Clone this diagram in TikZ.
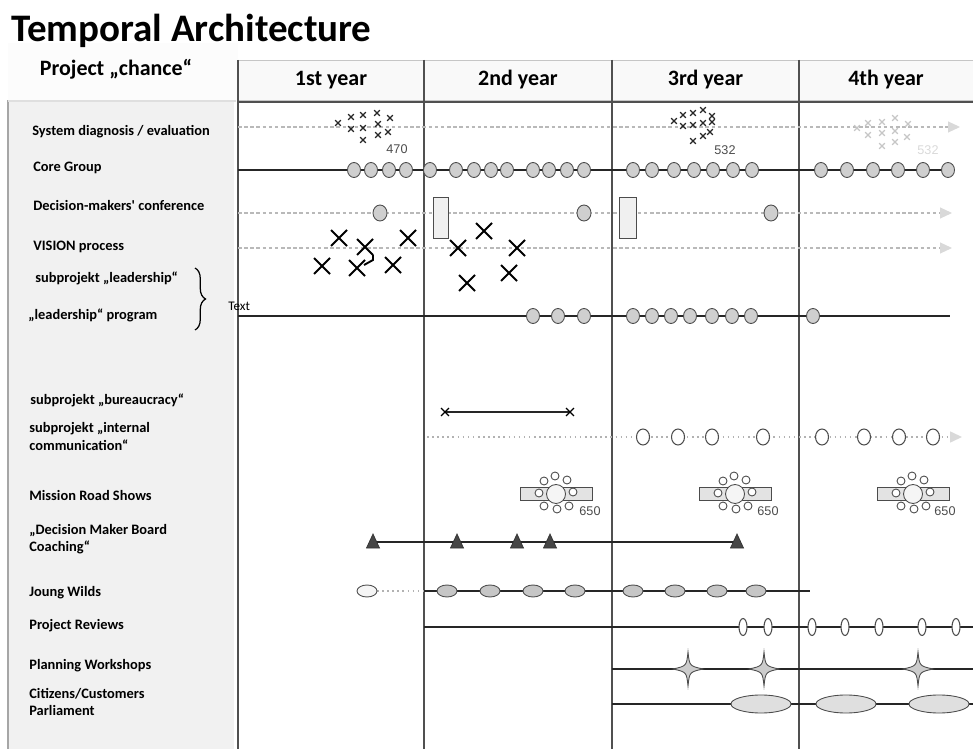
\documentclass[tikz,border=0pt]{standalone}
\usepackage{fontspec}
\setmainfont{Carlito}
\newfontfamily\numfont{Liberation Sans}
\usetikzlibrary{arrows.meta,positioning,calc,decorations.pathreplacing}

\definecolor{gridline}{HTML}{505050}
\definecolor{markfill}{HTML}{CFCFCF}
\definecolor{panelgray}{HTML}{F1F1F1}

\begin{document}
\begin{tikzpicture}[
  x=0.02cm, y=-0.02cm,
  rowlabel/.style={anchor=west, inner sep=0pt, align=left,
    font=\fontsize{8.2}{9.8}\selectfont\bfseries},
  yearhead/.style={rectangle, draw=gray!45, fill=gray!5, minimum height=0.8cm,
    inner sep=0pt, font=\fontsize{12.5}{14}\selectfont\bfseries},
  gridrule/.style={gridline, line width=0.6pt},
  timeline/.style={black!85, line width=0.8pt},
  planned/.style={gray!55, dash pattern=on 2pt off 1.5pt, line width=0.6pt,
    -{Triangle[length=2.4mm, width=2.2mm, color=gray!30]}},
  meeting/.style={draw=black!70, fill=markfill, line width=0.5pt},
  figure/.style={font=\numfont\fontsize{7.2}{8}\selectfont, text=black!70, inner sep=0pt},
  pics/cross/.style={code={\draw[line width=1.1pt] (-8,-8) -- (8,8) (-8,8) -- (8,-8);}},
  pics/tinyx/.style={code={\draw[line width=0.75pt] (-2.8,-2.8) -- (2.8,2.8) (-2.8,2.8) -- (2.8,-2.8);}},
  pics/coachmark/.style={code={\draw[fill=gray!55!black, draw=black!80] (-6.5,6) -- (0,-8) -- (6.5,6) -- cycle;}},
  pics/workshop/.style={code={
    \draw[meeting, fill=gray!40] (0,-17) .. controls (1.5,-3) .. (15,0) .. controls (1.5,3) .. (0,17)
      .. controls (-1.5,3) .. (-15,0) .. controls (-1.5,-3) .. (0,-17) -- cycle;}},
  pics/roundtable/.style={code={
    \draw[meeting, fill=gray!22] (-36,-6.5) rectangle (36,6.5);
    \draw[meeting, fill=gray!8] (0,0) circle [radius=9.5];
    \foreach \dx/\dy in {-12/-13, -1/-18, 11/-14, -17/-1, 17/-2, -12/12, 1/15, 13/12}
      \draw[meeting, fill=white] (\dx,\dy) circle [radius=4];}}
]
\useasboundingbox (0,0) rectangle (973,749);

% ---- Left panel ----
\fill[panelgray] (8,43) rectangle (234,749);
\draw[gray!70, line width=0.8pt] (8,100) -- (8,749);
\fill[gray!2] (8,43) rectangle (238,100);
\draw[gray!25, line width=1.5pt] (8,101) -- (236,101);
\node[inner sep=0pt, font=\fontsize{12.5}{14}\selectfont\bfseries] (proj) at (116,69) {Project „chance“};

% ---- Title ----
\node[anchor=base west, inner sep=0pt, font=\fontsize{22.2}{25}\selectfont\bfseries] (title) at (11,42) {Temporal Architecture};

% ---- Year headers and grid ----
\node[yearhead, minimum width=3.72cm] (y1) at (331,80) {1st year};
\node[yearhead, minimum width=3.76cm] (y2) at (518,80) {2nd year};
\node[yearhead, minimum width=3.74cm] (y3) at (705.5,80) {3rd year};
\node[yearhead, minimum width=3.48cm] (y4) at (886,80) {4th year};

\foreach \x in {238,424,612,799} {
  \draw[gridrule] (\x,60) -- (\x,749);
}
\draw[gridrule, line width=0.9pt] (238,102) -- (973,102);

% ---- System diagnosis / evaluation ----
\node[rowlabel] (diag) at (32,132) {System diagnosis / evaluation};
\coordinate (diag-a) at (238,127);
\coordinate (diag-b) at (960,127);
\draw[planned] (diag-a) -- (diag-b);
\foreach \px/\py in {338/123, 351/117, 351/129, 363/115, 363/128, 363/140, 377/113, 378/124, 378/135, 390/118, 388/132,
                     674/121, 683/115, 693/113, 703/110, 712/116, 683/126, 693/125, 703/123, 712/122, 693/141, 703/136, 710/132}
  \pic[black!85] at (\px,\py) {tinyx};
\foreach \px/\py in {857/128, 868/123, 882/122, 895/118, 908/124, 868/135, 882/133, 895/131, 907/137, 882/146, 895/142}
  \pic[gray!45] at (\px,\py) {tinyx};
\node[figure] (n470) at (397,149) {470};
\node[figure] (n532) at (725,150) {532};
\node[figure, text=gray!30] (n532b) at (928,150) {532};

% ---- Core Group ----
\node[rowlabel] (core) at (33,168) {Core Group};
\coordinate (core-a) at (238,170);
\coordinate (core-b) at (948,170);
\draw[timeline] (core-a) -- (core-b);
\foreach \x in {354,371,389,406,430,456,474,491,507,533,549,567,584,633,652,674,694,713,733,752,821,847,873,898,923,948}
  \draw[meeting] (\x,170) ellipse [x radius=6.5, y radius=7.5];

% ---- Decision-makers' conference ----
\node[rowlabel] (conf) at (33,206) {Decision-makers\textquotesingle\ conference};
\coordinate (conf-a) at (238,213);
\coordinate (conf-b) at (952,213);
\draw[planned] (conf-a) -- (conf-b);
\foreach \x in {380,584,771}
  \draw[meeting] (\x,213) ellipse [x radius=7, y radius=8];
\draw[meeting, fill=gray!12] (433,197) rectangle (448,238);
\draw[meeting, fill=gray!12] (619,197) rectangle (636,238);

% ---- VISION process ----
\node[rowlabel] (vision) at (33,247) {VISION process};
\coordinate (vision-a) at (238,248);
\coordinate (vision-b) at (952,248);
\draw[planned] (vision-a) -- (vision-b);
\foreach \px/\py in {339/238, 365/247, 408/238, 322/266, 357/268, 393/265, 458/248, 484/231, 517/248, 467/283, 509/273}
  \pic[black] at (\px,\py) {cross};
\draw[line width=1.1pt] (373,255) -- (373,260) -- (364,265);

% ---- subprojekt leadership ----
\node[rowlabel] (lead) at (35,278) {subprojekt „leadership“};
\node[rowlabel] (leadprog) at (28,315) {„leadership“ program};
\coordinate (brace-a) at (195,268);
\coordinate (brace-b) at (195,330);
\draw[decorate, decoration={brace, amplitude=6pt}, line width=0.7pt] (brace-a) -- (brace-b);
\node[anchor=west, inner sep=0pt, font=\fontsize{7.5}{9}\selectfont] (bracetext) at (228,306) {Text};
\coordinate (lead-a) at (238,316);
\coordinate (lead-b) at (950,316);
\draw[timeline] (lead-a) -- (lead-b);
\foreach \x in {533,558,584,633,652,671,690,712,732,751,813}
  \draw[meeting] (\x,316) ellipse [x radius=6.5, y radius=7.5];

% ---- subprojekt bureaucracy ----
\node[rowlabel] (bureau) at (30,400) {subprojekt „bureaucracy“};
\coordinate (bureau-a) at (445,412);
\coordinate (bureau-b) at (570,412);
\draw[timeline] (bureau-a) -- (bureau-b);
\pic[black, scale=1.4] at (bureau-a) {tinyx};
\pic[black, scale=1.4] at (bureau-b) {tinyx};

% ---- subprojekt internal communication ----
\node[rowlabel] (intcom) at (29,436.5) {subprojekt „internal\\communication“};
\coordinate (intcom-a) at (427,437);
\coordinate (intcom-b) at (962,437);
\draw[gray!60, dotted, line width=0.9pt, -{Triangle[length=2.4mm, width=2.2mm, color=gray!30]}] (intcom-a) -- (intcom-b);
\foreach \x in {643,678,712,763,822,864,899,933}
  \draw[meeting, fill=white, line width=0.6pt] (\x,437) ellipse [x radius=6.5, y radius=8];

% ---- Mission Road Shows ----
\node[rowlabel] (mission) at (29,495) {Mission Road Shows};
\pic at (556,494) {roundtable};
\pic at (735,494) {roundtable};
\pic at (913,494) {roundtable};
\node[figure] (n650a) at (590,511) {650};
\node[figure] (n650b) at (768,511) {650};
\node[figure] (n650c) at (945,511) {650};

% ---- Decision Maker Board Coaching ----
\node[rowlabel] (coach) at (29,539.5) {„Decision Maker Board\\Coaching“};
\coordinate (coach-a) at (373,542);
\coordinate (coach-b) at (737,542);
\draw[timeline, line width=1pt] (coach-a) -- (coach-b);
\foreach \x in {373,457,517,550,737}
  \pic at (\x,542) {coachmark};

% ---- Joung Wilds ----
\node[rowlabel] (wilds) at (29,593) {Joung Wilds};
\coordinate (wilds-s) at (377,591);
\coordinate (wilds-a) at (424,591);
\coordinate (wilds-b) at (810,591);
\draw[gray!60, dotted, line width=0.9pt] (wilds-s) -- (wilds-a);
\draw[timeline] (wilds-a) -- (wilds-b);
\draw[meeting, fill=gray!8] (367,591) ellipse [x radius=10, y radius=6];
\foreach \x in {447,490,533,575,633,675,717,756}
  \draw[meeting, fill=gray!45] (\x,591) ellipse [x radius=10, y radius=6];

% ---- Project Reviews ----
\node[rowlabel] (review) at (29,626) {Project Reviews};
\coordinate (review-a) at (424,627);
\coordinate (review-b) at (973,627);
\draw[timeline] (review-a) -- (review-b);
\foreach \x in {743,768,812,845,879,922,956}
  \draw[meeting, fill=white, line width=0.6pt] (\x,627) ellipse [x radius=4, y radius=8.5];

% ---- Planning Workshops ----
\node[rowlabel] (plan) at (29,666) {Planning Workshops};
\coordinate (plan-a) at (612,669);
\coordinate (plan-b) at (973,669);
\draw[timeline] (plan-a) -- (plan-b);
\foreach \x in {688,764,918}
  \pic at (\x,669) {workshop};

% ---- Citizens/Customers Parliament ----
\node[rowlabel] (parl) at (29,702) {Citizens/Customers\\Parliament};
\coordinate (parl-a) at (612,704);
\coordinate (parl-b) at (973,704);
\draw[timeline] (parl-a) -- (parl-b);
\foreach \x in {761,846,939}
  \draw[meeting, fill=gray!25] (\x,704) ellipse [x radius=30, y radius=9];

\end{tikzpicture}
\end{document}
